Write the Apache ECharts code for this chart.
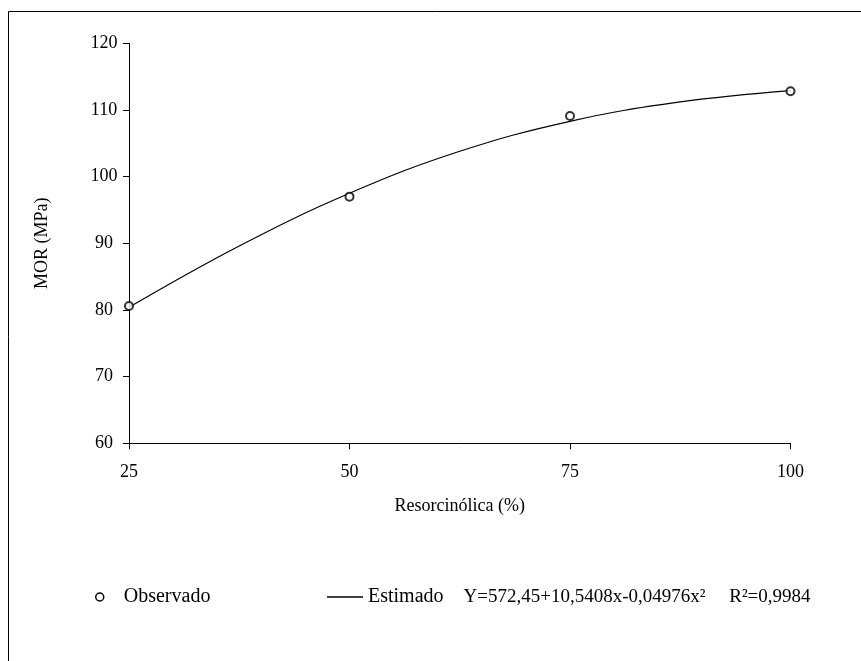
<!DOCTYPE html>
<html>
<head>
<meta charset="utf-8">
<script src="https://cdn.jsdelivr.net/npm/echarts@6/dist/echarts.min.js"></script>
<style>
  html, body { margin: 0; padding: 0; background: #ffffff; }
  #chart { width: 861px; height: 661px; }
</style>
</head>
<body>
<div id="chart"></div>
<script>
// Observed MOR values per resorcinol content
const obsX = [25, 50, 75, 100];
const obsY = [80.6, 97.0, 109.1, 112.8];

// Points along the fitted quadratic curve
const fitX = [25, 37.5, 50, 62.5, 75, 87.5, 100];
const fitY = [80.4, 89.6, 97.5, 103.8, 108.3, 111.2, 112.9];

// Axis settings
const xTicks = [25, 50, 75, 100];
const yTicks = [60, 70, 80, 90, 100, 110, 120];

const xTitle = 'Resorcinólica (%)';
const yTitle = 'MOR (MPa)';
const obsName = 'Observado';
const fitName = 'Estimado';
const equation = 'Y=572,45+10,5408x-0,04976x²     R²=0,9984';

const FONT = '"Liberation Serif", "Times New Roman", serif';

const chart = echarts.init(document.getElementById('chart'), null, { renderer: 'canvas' });

chart.setOption({
  backgroundColor: '#ffffff',
  animation: false,
  textStyle: { fontFamily: FONT, color: '#000' },
  grid: { left: 129, right: 70.5, top: 43.3, bottom: 217.7, containLabel: false },
  xAxis: {
    type: 'value',
    min: xTicks[0],
    max: xTicks[xTicks.length - 1],
    interval: xTicks[1] - xTicks[0],
    name: xTitle,
    nameLocation: 'middle',
    nameGap: 63,
    nameTextStyle: { fontFamily: FONT, fontSize: 18, color: '#000', verticalAlign: 'middle' },
    axisLine: { show: true, onZero: false, lineStyle: { color: '#000', width: 1 } },
    axisTick: { show: true, length: 6, lineStyle: { color: '#000', width: 1 } },
    axisLabel: { fontFamily: FONT, fontSize: 18, color: '#000', margin: 29, verticalAlign: 'middle' },
    splitLine: { show: false }
  },
  yAxis: {
    type: 'value',
    min: yTicks[0],
    max: yTicks[yTicks.length - 1],
    interval: yTicks[1] - yTicks[0],
    name: yTitle,
    nameLocation: 'middle',
    nameGap: 87,
    nameRotate: 90,
    nameTextStyle: { fontFamily: FONT, fontSize: 18, color: '#000', verticalAlign: 'middle' },
    axisLine: { show: true, lineStyle: { color: '#000', width: 1 } },
    axisTick: { show: true, length: 6, lineStyle: { color: '#000', width: 1 } },
    axisLabel: { fontFamily: FONT, fontSize: 18, color: '#000', margin: 25, align: 'center' },
    splitLine: { show: false }
  },
  legend: [
    {
      data: [{
        name: obsName,
        icon: 'circle',
        itemStyle: { color: '#ffffff', borderColor: '#000000', borderWidth: 1.5, opacity: 1 }
      }],
      left: 95,
      top: 585,
      padding: 0,
      itemWidth: 38,
      itemHeight: 8,
      selectedMode: false,
      textStyle: { fontFamily: FONT, fontSize: 20, color: '#000', lineHeight: 24 }
    },
    {
      data: [{
        name: fitName,
        icon: 'rect',
        itemStyle: { color: '#000', borderWidth: 0 }
      }],
      left: 327,
      top: 585,
      padding: 0,
      itemWidth: 36,
      itemHeight: 1.5,
      selectedMode: false,
      formatter: name => name + '    {eq|' + equation + '}',
      textStyle: {
        fontFamily: FONT, fontSize: 20, color: '#000', lineHeight: 24,
        rich: { eq: { fontFamily: FONT, fontSize: 19, color: '#000', lineHeight: 24 } }
      }
    }
  ],
  graphic: [
    {
      type: 'rect',
      silent: true,
      shape: { x: 8.5, y: 11.5, width: 1000, height: 1000 },
      style: { fill: null, stroke: '#000', lineWidth: 1 }
    }
  ],
  series: [
    {
      name: fitName,
      type: 'line',
      data: fitX.map((x, i) => [x, fitY[i]]),
      smooth: 0.4,
      symbol: 'none',
      showSymbol: false,
      lineStyle: { color: '#000', width: 1.2 },
      itemStyle: { color: '#000' },
      z: 2
    },
    {
      name: obsName,
      type: 'scatter',
      data: obsX.map((x, i) => [x, obsY[i]]),
      symbol: 'emptyCircle',
      symbolSize: 8,
      itemStyle: { color: '#000', borderColor: '#000', borderWidth: 1.5 },
      z: 3
    }
  ]
});
</script>
</body>
</html>
